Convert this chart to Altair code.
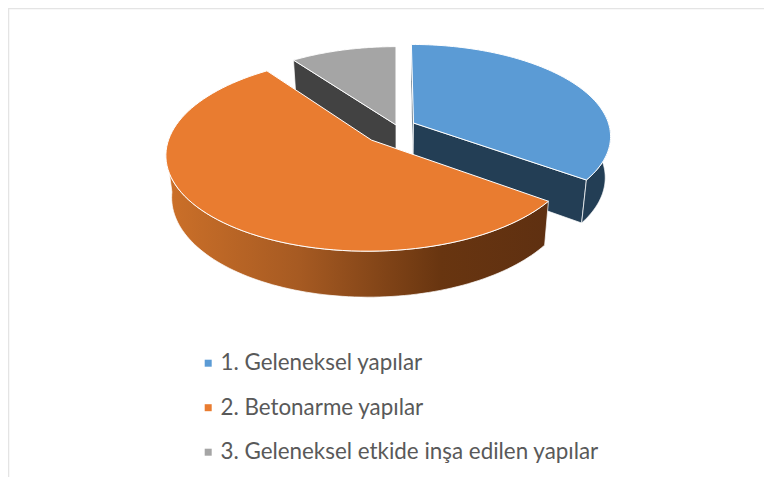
import numpy as np
import altair as alt

names = ["1. Geleneksel yapılar", "2. Betonarme yapılar", "3. Geleneksel etkide inşa edilen yapılar"]
shares = [35, 55, 10]
top_colors = ["#5B9BD5", "#E97C30", "#A5A5A5"]
cut_colors = ["#233E55", "#5F3011", "#424242"]

# Camera of the tilted disc, and each slice's shift out of the centre
CX, CY, A, B, P = 388, 122, 201, 93, 0.14   # chart pixels (page pixels minus the 8px margin)
SHIFT = [(0.088, 0.076), (-0.12, -0.107), (0.0, 0.055)]
RADIUS = [0.98, 0.995, 0.97]
START_DEG = 0.0


def project(u, v):
    w = 1 + P * v
    return np.column_stack([CX + A * u / w, CY - B * v / w])


def drop(pts):
    """Lower edge of the wall below an upper-edge point."""
    out = pts.copy()
    out[:, 0] = CX + (pts[:, 0] - CX) * 0.975
    out[:, 1] = pts[:, 1] + 43 + (pts[:, 1] + 8 - 180) * 0.042
    return out


def arc(i, a0, a1, n=90):
    t = np.radians(np.linspace(a0, a1, n))
    su, sv = SHIFT[i]
    return project(su + RADIUS[i] * np.sin(t), sv + RADIUS[i] * np.cos(t))


def apex(i):
    return project(np.array([SHIFT[i][0]]), np.array([SHIFT[i][1]]))


def feature(pts, name=""):
    ring = [[float(x), float(y)] for x, y in pts]
    ring.append(ring[0])
    return {"type": "Feature", "properties": {"name": name},
            "geometry": {"type": "Polygon", "coordinates": [ring]}}


def wall(upper):
    return np.vstack([upper, drop(upper)[::-1]])


color_scale = alt.Scale(domain=names, range=top_colors)
legend = alt.Legend(
    title=None, orient="none", legendX=189, legendY=344, symbolType="square", symbolSize=49,
    symbolStrokeWidth=0, labelFont="Lato", labelFontSize=22.4, labelColor="#595959",
    labelOffset=1, labelLimit=500, rowPadding=21.5, symbolOpacity=1,
)


def wall_layer(pts, fill, sw=0.8):
    return alt.Chart(alt.Data(values=[feature(pts)])).mark_geoshape(
        fill=fill, stroke="white", strokeWidth=sw, strokeOpacity=0.9).project(
        type="identity", scale=1, translate=[0, 0])


def top_layer(pts, name):
    return alt.Chart(alt.Data(values=[feature(pts, name)])).mark_geoshape(
        stroke="white", strokeWidth=1).encode(
        color=alt.Color("properties.name:N", scale=color_scale, legend=legend)).project(
        type="identity", scale=1, translate=[0, 0])


angles = np.cumsum([0] + shares) / sum(shares) * 360 + START_DEG
layers = []

# grey slice (farthest)
g0, g1 = angles[2], angles[3]
upper = np.vstack([arc(2, g0, g0, 1), apex(2)])
layers.append(wall_layer(wall(upper), cut_colors[2]))
layers.append(top_layer(np.vstack([apex(2), arc(2, g0, g1)]), names[2]))

# blue slice
b0, b1 = angles[0], angles[1]
layers.append(wall_layer(wall(np.vstack([arc(0, b0, b0, 1), apex(0)])), cut_colors[0]))
layers.append(wall_layer(wall(np.vstack([apex(0), arc(0, b1, b1, 1)])), cut_colors[0]))
layers.append(wall_layer(wall(arc(0, 85, b1)), cut_colors[0]))
layers.append(top_layer(np.vstack([apex(0), arc(0, b0, b1)]), names[0]))

# orange slice (nearest)
o0, o1 = angles[1], angles[2]
rim_fill = alt.LinearGradient(
    gradient="linear", x1=0, x2=1, y1=0, y2=0,
    stops=[alt.GradientStop(offset=0, color="#CC7029"),
           alt.GradientStop(offset=0.35, color="#A65A22"),
           alt.GradientStop(offset=0.72, color="#683510"),
           alt.GradientStop(offset=1, color="#5F3011")])
layers.append(wall_layer(wall(arc(1, o0, 264)), rim_fill))
layers.append(top_layer(np.vstack([apex(1), arc(1, o0, o1)]), names[1]))

# panel frame, as far out as the page margin lets it go
frame = alt.Chart(alt.Data(values=[{"a": 0}]))
layers.append(frame.mark_rule(color="#E4E4E4", strokeWidth=1.5).encode(
    x=alt.value(0), x2=alt.value(756), y=alt.value(0.5)))
layers.append(frame.mark_rule(color="#E4E4E4", strokeWidth=1.5).encode(
    x=alt.value(0.5), y=alt.value(0), y2=alt.value(469)))

chart = alt.layer(*layers).properties(
    width=756, height=469, padding=0, background="white",
    autosize=alt.AutoSizeParams(type="none"),
).configure_view(strokeWidth=0)

chart.save("out.html", embed_options={"renderer": "svg", "actions": False})
